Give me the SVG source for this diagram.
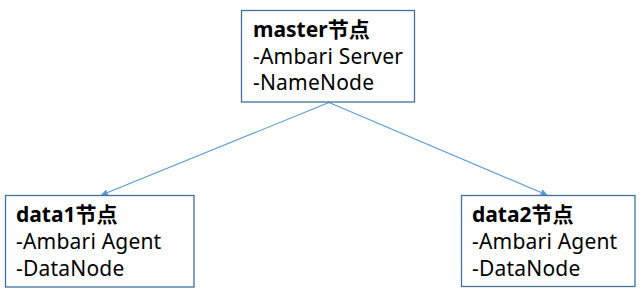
<svg xmlns="http://www.w3.org/2000/svg" width="642" height="295" viewBox="0 0 642 295">
  <style>
    .box { fill: #ffffff; stroke: #41719c; stroke-width: 1.3; }
    .t { font-family: "Noto Sans", "Noto Sans CJK SC", sans-serif; font-size: 21px; letter-spacing: 0.2px; fill: #000000; }
    .b { font-weight: bold; letter-spacing: 0; }
    .edge { stroke: #5b9bd5; stroke-width: 1.1; fill: none; marker-end: url(#arrow); }
  </style>
  <defs>
    <marker id="arrow" viewBox="0 0 10 10" refX="9" refY="5" markerWidth="8" markerHeight="7" markerUnits="userSpaceOnUse" orient="auto">
      <path d="M0,0 L10,5 L0,10 z" fill="#5b9bd5"/>
    </marker>
  </defs>
  <rect width="642" height="295" fill="#ffffff"/>
  <g id="connectors">
    <line class="edge" x1="329" y1="102.5" x2="101.5" y2="195"/>
    <line class="edge" x1="329" y1="102.5" x2="547" y2="195"/>
  </g>
  <g id="master">
    <rect class="box" x="241.5" y="10.5" width="173" height="91.5"/>
    <text class="t b" x="253" y="37">master节点</text>
    <text class="t" x="253" y="63.5">-Ambari Server</text>
    <text class="t" x="253" y="90">-NameNode</text>
  </g>
  <g id="data1">
    <rect class="box" x="5.5" y="195.5" width="188.5" height="91.5"/>
    <text class="t b" x="16" y="222">data1节点</text>
    <text class="t" x="16" y="249">-Ambari Agent</text>
    <text class="t" x="16" y="276">-DataNode</text>
  </g>
  <g id="data2">
    <rect class="box" x="461.5" y="195.5" width="173.5" height="91"/>
    <text class="t b" x="472" y="222">data2节点</text>
    <text class="t" x="472" y="249">-Ambari Agent</text>
    <text class="t" x="472" y="276">-DataNode</text>
  </g>
</svg>
